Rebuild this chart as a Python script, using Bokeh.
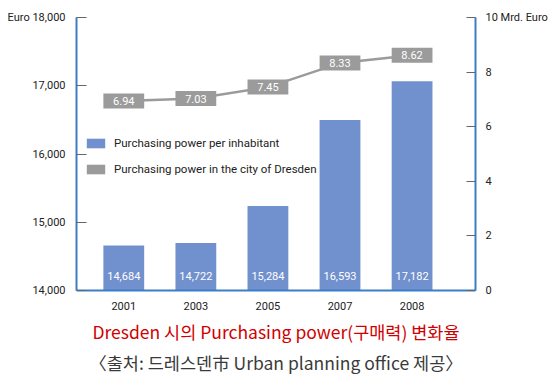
from bokeh.plotting import figure
from bokeh.models import (Range1d, LinearAxis, FixedTicker, NumeralTickFormatter,
                          Legend, LegendItem, Title, ColumnDataSource)
from bokeh.core.properties import value
from bokeh.embed import file_html
from bokeh.resources import INLINE

years = ["2001", "2003", "2005", "2007", "2008"]
per_inhabitant = [14684, 14722, 15284, 16593, 17182]
city_total = [6.94, 7.03, 7.45, 8.33, 8.62]
left_ticks = [14000, 15000, 16000, 17000, 18000]
right_ticks = [0, 2, 4, 6, 8, 10]

series_inh = "Purchasing power per inhabitant"
series_city = "Purchasing power in the city of Dresden"
caption = "Dresden 시의 Purchasing power(구매력) 변화율"
source_note = "〈출처: 드레스덴市 Urban planning office 제공〉"

BLUE = "#7190CE"
GREY = "#9B9B9B"
AXIS_BLUE = "#3C7DC8"
FONT = "Roboto"

xs = list(range(len(years)))
src = ColumnDataSource(dict(
    x=xs,
    inh=per_inhabitant,
    inh_label=[f"{v:,}" for v in per_inhabitant],
    city=city_total,
    city_label=[f"{v:.2f}" for v in city_total],
    base=[left_ticks[0]] * len(years),
))

p = figure(width=550, height=375,
           x_range=Range1d(-0.656, 4.88),
           y_range=Range1d(left_ticks[0], left_ticks[-1]),
           output_backend="svg", toolbar_location=None,
           min_border_left=76, min_border_right=73,
           min_border_top=17, min_border_bottom=85)
p.outline_line_color = None
p.xgrid.visible = False
p.ygrid.visible = False
p.background_fill_color = "white"
p.border_fill_color = "white"
p.extra_y_ranges = {"right": Range1d(right_ticks[0], right_ticks[-1]),
                    "bars": Range1d(left_ticks[0], 18150)}

bars = p.vbar(x="x", top="inh", bottom="base", width=0.566, source=src,
              fill_color=BLUE, line_color=None, y_range_name="bars")
p.text(x="x", y="base", text="inh_label", source=src, y_range_name="bars",
       text_align="center", text_baseline="middle", y_offset=-15,
       text_color="white", text_font_size="11px", text_font=value(FONT))

p.line(x="x", y="city", source=src, y_range_name="right",
       line_color=GREY, line_width=2.5)
boxes = p.rect(x="x", y="city", width=0.566, height=15, height_units="screen",
               source=src, y_range_name="right", fill_color=GREY, line_color=None)
p.text(x="x", y="city", text="city_label", source=src, y_range_name="right",
       text_align="center", text_baseline="middle",
       text_color="white", text_font_size="11px", text_font=value(FONT))

# left axis
ya = p.yaxis[0]
ya.ticker = FixedTicker(ticks=left_ticks)
ya.formatter = NumeralTickFormatter(format="0,0")
ya.major_label_overrides = {left_ticks[-1]: "Euro 18,000"}
ya.axis_line_color = AXIS_BLUE
ya.axis_line_width = 2
ya.major_tick_in = 10
ya.major_tick_out = 0
ya.major_tick_line_color = "#666666"
ya.minor_tick_line_color = None
ya.major_label_standoff = 11
ya.major_label_text_font = FONT
ya.major_label_text_font_size = "11px"
ya.major_label_text_color = "#222222"

# right axis
ra = LinearAxis(y_range_name="right", ticker=FixedTicker(ticks=right_ticks),
                major_label_overrides={right_ticks[-1]: "10 Mrd. Euro"})
ra.axis_line_color = AXIS_BLUE
ra.axis_line_width = 2
ra.major_tick_in = 9
ra.major_tick_out = 0
ra.major_tick_line_color = "#666666"
ra.minor_tick_line_color = None
ra.major_label_standoff = 10
ra.major_label_text_font = FONT
ra.major_label_text_font_size = "11px"
ra.major_label_text_color = "#222222"
p.add_layout(ra, "right")

# bottom axis
xa = p.xaxis[0]
xa.ticker = FixedTicker(ticks=xs)
xa.major_label_overrides = {i: y for i, y in zip(xs, years)}
xa.axis_line_color = AXIS_BLUE
xa.axis_line_width = 2
xa.major_tick_in = 0
xa.major_tick_out = 0
xa.minor_tick_line_color = None
xa.major_label_standoff = 11
xa.major_label_text_font = FONT
xa.major_label_text_font_size = "11px"
xa.major_label_text_color = "#222222"

legend = Legend(items=[LegendItem(label=series_inh, renderers=[bars]),
                       LegendItem(label=series_city, renderers=[boxes])],
                location=(8, 114), orientation="vertical",
                glyph_width=23, glyph_height=12, label_height=13,
                label_standoff=7, spacing=12, padding=0, margin=0,
                border_line_color=None, background_fill_alpha=0,
                label_text_font=FONT, label_text_font_size="11.5px",
                label_text_color="#222222")
p.add_layout(legend)

t1 = Title(text=caption, align="center", text_color="#D00000",
           text_font="Noto Sans CJK KR", text_font_size="17.5px",
           text_font_style="normal", standoff=8)
p.add_layout(t1, "below")
t2 = Title(text=source_note, align="center", text_color="#3A3A3A",
           text_font="Noto Sans CJK KR", text_font_size="17.5px",
           text_font_style="normal", standoff=0)
p.add_layout(t2, "below")

open("out.html", "w").write(file_html(p, INLINE))
